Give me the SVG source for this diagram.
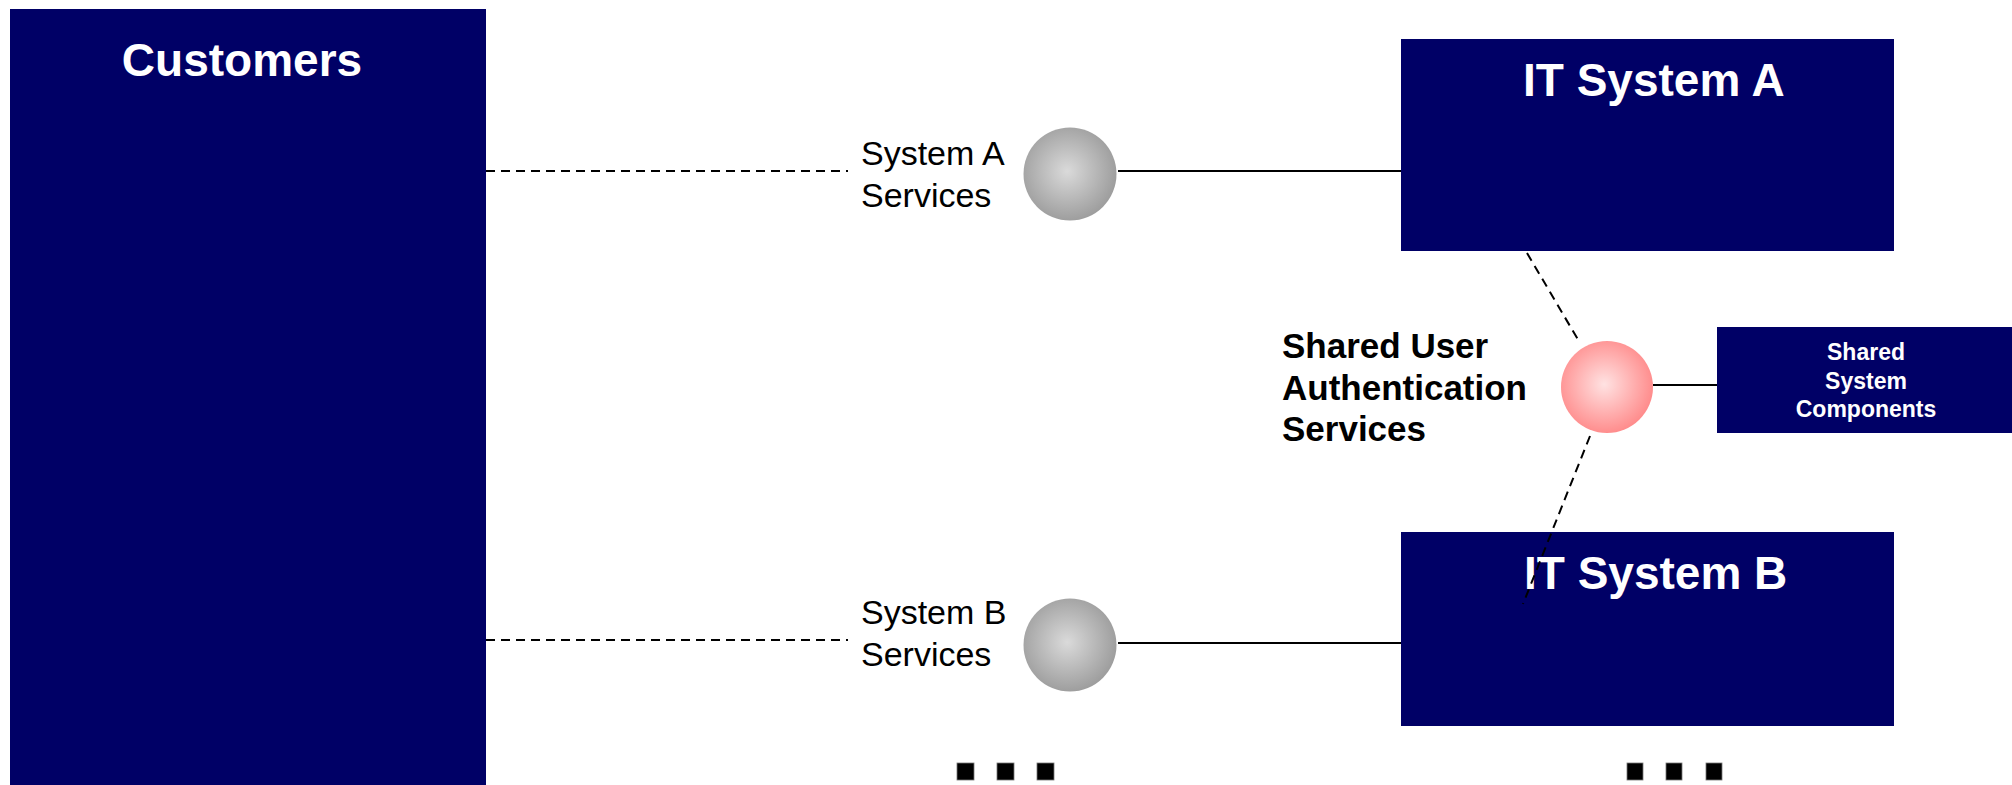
<svg xmlns="http://www.w3.org/2000/svg" width="2012" height="785" viewBox="0 0 2012 785">
<style>
.box{fill:#000066}
.title{font-family:"Liberation Sans",Arial,sans-serif;font-weight:bold;font-size:46px;fill:#ffffff}
.small{font-family:"Liberation Sans",Arial,sans-serif;font-weight:bold;font-size:23px;fill:#ffffff;text-anchor:middle}
.lbl{font-family:"Liberation Sans",Arial,sans-serif;font-size:34px;fill:#000000}
.blbl{font-family:"Liberation Sans",Arial,sans-serif;font-weight:bold;font-size:35px;fill:#000000}
.solid{stroke:#000000;stroke-width:2;fill:none}
.dash{stroke:#000000;stroke-width:2;fill:none;stroke-dasharray:9 6}
.dot{fill:#000000;stroke:#777777;stroke-width:0.8}
</style>
<defs>
<radialGradient id="gray" cx="0.47" cy="0.47" r="0.55">
<stop offset="0" stop-color="#dadada"/>
<stop offset="1" stop-color="#9c9c9c"/>
</radialGradient>
<radialGradient id="pink" cx="0.47" cy="0.47" r="0.55">
<stop offset="0" stop-color="#ffe2e2"/>
<stop offset="1" stop-color="#ff8a8a"/>
</radialGradient>
</defs>
<rect width="2012" height="785" fill="#ffffff"/>
<g id="customers">
<rect class="box" x="10" y="9" width="476" height="780"/>
<text class="title" x="242" y="76" text-anchor="middle">Customers</text>
</g>
<g id="it-system-a">
<rect class="box" x="1401" y="39" width="493" height="212"/>
<text class="title" x="1523" y="96">IT System A</text>
</g>
<g id="it-system-b">
<rect class="box" x="1401" y="532" width="493" height="194"/>
<text class="title" x="1524" y="589">IT System B</text>
</g>
<g id="shared-components">
<rect class="box" x="1717" y="327" width="300" height="106"/>
<text class="small" x="1866" y="360">Shared</text>
<text class="small" x="1866" y="389">System</text>
<text class="small" x="1866" y="417">Components</text>
</g>
<g id="system-a-services">
<circle cx="1070" cy="174" r="46.5" fill="url(#gray)"/>
<text class="lbl" x="861" y="165">System A</text>
<text class="lbl" x="861" y="207">Services</text>
</g>
<g id="system-b-services">
<circle cx="1070" cy="645" r="46.5" fill="url(#gray)"/>
<text class="lbl" x="861" y="624">System B</text>
<text class="lbl" x="861" y="666">Services</text>
</g>
<g id="shared-auth">
<circle cx="1607" cy="387" r="46" fill="url(#pink)"/>
<text class="blbl" x="1282" y="358">Shared User</text>
<text class="blbl" x="1282" y="400">Authentication</text>
<text class="blbl" x="1282" y="441">Services</text>
</g>
<g id="connectors">
<line class="dash" x1="486" y1="171" x2="848" y2="171"/>
<line class="solid" x1="1118" y1="171" x2="1401" y2="171"/>
<line class="dash" x1="486" y1="640" x2="848" y2="640"/>
<line class="solid" x1="1118" y1="643" x2="1401" y2="643"/>
<line class="solid" x1="1653" y1="385" x2="1717" y2="385"/>
<line class="dash" x1="1527" y1="253" x2="1580" y2="343"/>
<line class="dash" x1="1590" y1="436" x2="1523" y2="604"/>
</g>
<g id="ellipsis-left">
<rect class="dot" x="957" y="763" width="17" height="17"/>
<rect class="dot" x="997" y="763" width="17" height="17"/>
<rect class="dot" x="1037" y="763" width="17" height="17"/>
</g>
<g id="ellipsis-right">
<rect class="dot" x="1627" y="763" width="16" height="17"/>
<rect class="dot" x="1666" y="763" width="16" height="17"/>
<rect class="dot" x="1706" y="763" width="16" height="17"/>
</g>
</svg>
